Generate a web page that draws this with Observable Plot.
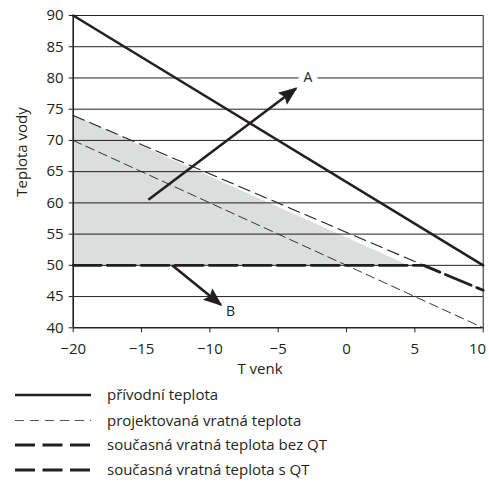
<!DOCTYPE html>
<html>
<head>
<meta charset="utf-8">
<script src="https://cdn.jsdelivr.net/npm/d3@7"></script>
<script src="https://cdn.jsdelivr.net/npm/@observablehq/plot@0.6"></script>
<style>
  html, body { margin: 0; padding: 0; background: #fff; }
  #wrap { position: relative; width: 489px; height: 493px; font-family: "Open Sans", sans-serif; color: #231f20; }
  #legend { position: absolute; left: 0; top: 380px; }
</style>
</head>
<body>
<div id="wrap"></div>
<script>
// ---- data ----
const xTicks = [-20, -15, -10, -5, 0, 5, 10];
const yTicks = [40, 45, 50, 55, 60, 65, 70, 75, 80, 85, 90];

const supplyX = [-20, 10];          // přívodní teplota
const supplyY = [90, 50];
const projX = [-20, 10];            // projektovaná vratná teplota
const projY = [70, 40];
const bezX = [-20, 5.65];           // současná vratná teplota bez QT
const bezY = [74, 50];
const sQtX = [-20, 5.65, 10];       // současná vratná teplota s QT
const sQtY = [50, 50, 46];
const shadeX = [-20, 4.5];          // shaded region top edge
const shadeY = [74, 50];
const shadeBase = [50, 50];

const arrowNames = ["A", "B"];
const arrowX1 = [-14.5, -12.76];
const arrowY1 = [60.5, 50];
const arrowX2 = [-3.7, -9.2];
const arrowY2 = [78.3, 43.7];
const labelX = [-2.82, -8.49];
const labelY = [80, 42.6];

const legendLabels = [
  "přívodní teplota",
  "projektovaná vratná teplota",
  "současná vratná teplota bez QT",
  "současná vratná teplota s QT"
];

const ink = "#231f20";
const pts = (xs, ys) => xs.map((x, i) => ({x, y: ys[i]}));
const shade = shadeX.map((x, i) => ({x, y: shadeY[i], y0: shadeBase[i]}));
const arrows = arrowNames.map((n, i) => ({n, x1: arrowX1[i], y1: arrowY1[i], x2: arrowX2[i], y2: arrowY2[i]}));
const labels = arrowNames.map((n, i) => ({n, x: labelX[i], y: labelY[i]}));

const plot = Plot.plot({
  width: 489,
  height: 380,
  marginLeft: 72.7,
  marginRight: 6.3,
  marginTop: 15,
  marginBottom: 52.7,
  style: {fontFamily: "Open Sans, sans-serif", fontSize: "15px", color: ink, background: "white", overflow: "visible"},
  x: {domain: [-20, 10]},
  y: {domain: [40, 90]},
  marks: [
    Plot.areaY(shade, {x: "x", y1: "y0", y2: "y", fill: "#dcdddd"}),
    Plot.ruleY(yTicks.slice(1), {stroke: ink, strokeWidth: 1}),
    Plot.ruleX([10], {y1: 40, y2: 90, stroke: ink, strokeWidth: 1}),
    Plot.axisY({ticks: yTicks, tickSize: 4, tickPadding: 5.5, label: null, stroke: ink, fill: ink}),
    Plot.axisX({ticks: xTicks, tickSize: 5, tickPadding: 11, label: null, stroke: ink, fill: ink, className: "xax"}),
    Plot.ruleX([-20], {stroke: ink, strokeWidth: 1.6}),
    Plot.ruleY([40], {stroke: ink, strokeWidth: 1.6}),
    Plot.line(pts(projX, projY), {x: "x", y: "y", stroke: ink, strokeWidth: 0.9, strokeDasharray: "9,5"}),
    Plot.line(pts(bezX, bezY), {x: "x", y: "y", stroke: ink, strokeWidth: 1.1, strokeDasharray: "12,6"}),
    Plot.line(pts(sQtX, sQtY), {x: "x", y: "y", stroke: ink, strokeWidth: 2.8, strokeDasharray: "28,6"}),
    Plot.line(pts(supplyX, supplyY), {x: "x", y: "y", stroke: ink, strokeWidth: 2.5}),
    Plot.link(arrows, {x1: "x1", y1: "y1", x2: "x2", y2: "y2", stroke: ink, strokeWidth: 2.6, className: "ann-arrow"}),
    Plot.text(labels.filter(d => d.n === "A"), {x: "x", y: "y", text: "n", fill: ink, stroke: "white", strokeWidth: 12, fontSize: 14}),
    Plot.text(labels.filter(d => d.n === "B"), {x: "x", y: "y", text: "n", fill: ink, fontSize: 14})
  ]
});

// filled arrowheads
const svg = d3.select(plot);
const defs = svg.insert("defs", ":first-child");
defs.append("marker")
  .attr("id", "ahead")
  .attr("markerUnits", "userSpaceOnUse")
  .attr("viewBox", "-20 -9 24 18")
  .attr("refX", 0).attr("refY", 0)
  .attr("markerWidth", 24).attr("markerHeight", 18)
  .attr("orient", "auto")
  .append("path")
  .attr("d", "M-17,-7.5L2,0L-17,7.5L-14,0Z")
  .attr("fill", ink);
svg.selectAll(".ann-arrow path, .ann-arrow line").attr("marker-end", "url(#ahead)");

// last x tick label aligned to the right edge (as in the reference)
const xLabels = svg.selectAll(".xax text").nodes();
if (xLabels.length) {
  const last = d3.select(xLabels[xLabels.length - 1]);
  last.attr("text-anchor", "end").attr("dx", 3);
}

// axis titles
svg.append("text")
  .attr("transform", "translate(22,152) rotate(-90)")
  .attr("text-anchor", "middle").attr("dy", "0.35em")
  .attr("fill", ink).style("font-size", "15px")
  .text("Teplota vody");
svg.append("text")
  .attr("x", 260).attr("y", 369)
  .attr("text-anchor", "middle").attr("dy", "0.35em")
  .attr("fill", ink).style("font-size", "15px")
  .text("T venk");

document.getElementById("wrap").appendChild(plot);

// legend
const lg = d3.select("#wrap").append("svg")
  .attr("id", "legend").attr("width", 489).attr("height", 113);
const rowsY = [15, 40.5, 65, 90];
const styles = [
  {w: 2.6, dash: null},
  {w: 1, dash: "9,6", color: "#555"},
  {w: 3, dash: "20,7.5"},
  {w: 3, dash: "20,7.5"}
];
legendLabels.forEach((t, i) => {
  const s = styles[i];
  const l = lg.append("line").attr("x1", 15).attr("x2", 91).attr("y1", rowsY[i]).attr("y2", rowsY[i])
    .attr("stroke", s.color || ink).attr("stroke-width", s.w);
  if (s.dash) l.attr("stroke-dasharray", s.dash);
  lg.append("text").attr("x", 107).attr("y", rowsY[i]).attr("dy", "0.35em")
    .attr("fill", ink).style("font-family", "Open Sans, sans-serif").style("font-size", "15px")
    .text(t);
});
</script>
</body>
</html>
